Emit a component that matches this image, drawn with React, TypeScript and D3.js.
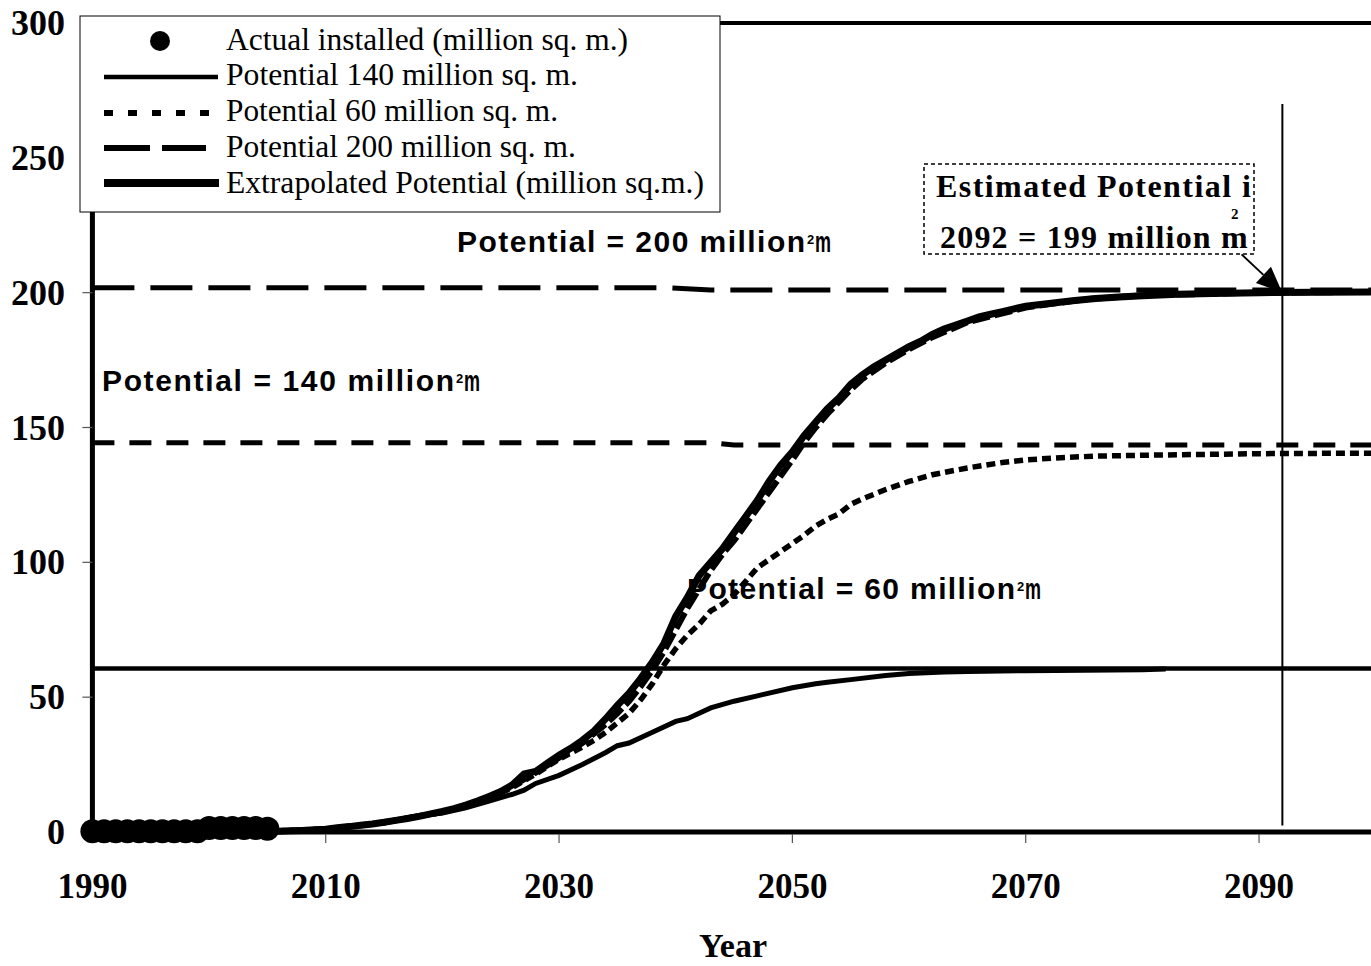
import React from 'react';
import * as d3 from 'd3';

// ---------- data ----------
const actualYears = [1990, 1991, 1992, 1993, 1994, 1995, 1996, 1997, 1998, 1999, 2000, 2001, 2002, 2003, 2004, 2005];
const actualValues = [0.3, 0.3, 0.3, 0.3, 0.3, 0.3, 0.3, 0.3, 0.3, 0.3, 1.5, 1.5, 1.5, 1.5, 1.5, 1.2];

// Extrapolated potential (thick solid) -> ~200
const extrapYears = [2005, 2006, 2007, 2008, 2009, 2010, 2011, 2012, 2013, 2014, 2015, 2016, 2017, 2018, 2019, 2020, 2021, 2022, 2023, 2024, 2025, 2026, 2027, 2028, 2029, 2030, 2031, 2032, 2033, 2034, 2035, 2036, 2037, 2038, 2039, 2040, 2041, 2042, 2043, 2044, 2045, 2046, 2047, 2048, 2049, 2050, 2051, 2052, 2053, 2054, 2055, 2056, 2057, 2058, 2059, 2060, 2061, 2062, 2063, 2064, 2065, 2066, 2067, 2068, 2069, 2070, 2072, 2074, 2076, 2078, 2080, 2083, 2086, 2090, 2095, 2100];
const extrapValues = [0.2, 0.3, 0.5, 0.6, 0.8, 1.0, 1.6, 2.0, 2.5, 3.0, 3.6, 4.3, 5.0, 5.8, 6.7, 7.6, 8.7, 10.0, 11.5, 13.2, 15.0, 17.5, 21.5, 22.5, 25.5, 28.5, 31, 34, 37.5, 42, 47, 51.5, 57, 63, 70, 80, 87, 95, 100, 105, 111, 117, 123, 130, 136, 141, 147, 152, 157, 161, 166, 169.5, 172.5, 175, 177.5, 180, 182, 184.5, 186.5, 188, 189.5, 191, 192, 193, 194, 195, 196, 197, 197.8, 198.4, 198.9, 199.4, 199.7, 200, 200.2, 200.3];

// Potential 200 (dashed curve)
const p200Years = [2005, 2010, 2015, 2020, 2022, 2024, 2026, 2028, 2030, 2032, 2034, 2035, 2036, 2037, 2038, 2039, 2040, 2041, 2042, 2043, 2044, 2045, 2046, 2047, 2048, 2049, 2050, 2051, 2052, 2053, 2054, 2055, 2056, 2058, 2060, 2062, 2065, 2070, 2075, 2080, 2090, 2100];
const p200Values = [0.2, 1.0, 3.5, 7.5, 9.8, 13, 17, 22, 27.5, 33, 40, 44, 48.5, 54, 60, 67, 75, 83, 90, 97, 103, 108, 114, 120, 126, 132, 138, 144.5, 150, 155, 159.5, 164, 168, 174, 179, 183.5, 189, 194.5, 197.5, 199, 200, 200.3];

// Potential 140 (dotted curve)
const p140Years = [2005, 2010, 2015, 2020, 2022, 2024, 2026, 2028, 2030, 2032, 2033, 2034, 2035, 2036, 2037, 2038, 2039, 2040, 2041, 2042, 2043, 2044, 2045, 2046, 2047, 2048, 2049, 2050, 2051, 2052, 2053, 2054, 2055, 2056, 2058, 2060, 2062, 2065, 2068, 2070, 2073, 2076, 2080, 2085, 2090, 2100];
const p140Values = [0.2, 1, 3.5, 7.3, 9.5, 12.5, 16.5, 21.5, 27, 31.5, 34, 37, 40.5, 44, 49, 55, 62, 68, 73, 77, 82, 84.5, 88, 93, 98, 101, 104, 107, 110, 113.5, 116, 118, 121.5, 123.5, 127, 130, 132.5, 135, 137, 138, 138.8, 139.4, 139.7, 140, 140.3, 140.5];

// Potential 60 (thin solid curve)
const p60Years = [2005, 2008, 2010, 2012, 2014, 2016, 2018, 2020, 2022, 2024, 2026, 2027, 2028, 2030, 2032, 2034, 2035, 2036, 2038, 2040, 2041, 2043, 2045, 2047, 2050, 2052, 2053, 2055, 2058, 2060, 2063, 2065, 2070, 2075, 2080, 2082];
const p60Values = [0.2, 0.5, 1, 2, 3, 4.5, 6, 7, 9, 11.5, 14, 15.5, 18, 21, 25, 29.5, 32, 33, 37, 41, 42, 46, 48.5, 50.5, 53.5, 55, 55.5, 56.5, 58, 58.8, 59.3, 59.5, 59.8, 60, 60.2, 60.4];

// Horizontal potential levels
const level200Years = [1990, 2039.5, 2043, 2100];
const level200Values = [201.8, 201.8, 201, 201];
const level140Years = [1990, 2043, 2045, 2100];
const level140Values = [144.3, 144.3, 143.5, 143.5];
const level60Years = [1990, 2100];
const level60Values = [60.6, 60.6];

const xTicks = [1990, 2010, 2030, 2050, 2070, 2090];
const yTicks = [0, 50, 100, 150, 200, 250, 300];

const markerYear = 2092;
const markerTop = 270;
const markerBottom = 2.4;
const arrowFrom = [2088.5, 214.2];
const arrowTo = [2092, 200];

const legendLabels = [
  'Actual installed (million sq. m.)',
  'Potential 140 million sq. m.',
  'Potential 60 million sq. m.',
  'Potential 200 million sq. m.',
  'Extrapolated Potential (million sq.m.)',
];

const SERIF = '"Liberation Serif", "Times New Roman", serif';
const SANS = '"Liberation Sans", Arial, sans-serif';

const zip = (xs: number[], ys: number[]) => xs.map((x, i) => [x, ys[i]] as [number, number]);

function PotLabel({ x0, base, text, len }: { x0: number; base: number; text: string; len: number }) {
  return (
    <g>
      <text x={x0} y={base} fontFamily={SANS} fontWeight="bold" fontSize={30} textLength={len} lengthAdjust="spacing">
        {text}
      </text>
      <text x={x0 + len + 2} y={base - 8} fontFamily={SANS} fontWeight="bold" fontSize={13}>2</text>
      <text x={x0 + len + 10} y={base} fontFamily={SANS} fontWeight="bold" fontSize={30} textLength={16} lengthAdjust="spacingAndGlyphs">m</text>
    </g>
  );
}

export default function App() {
  const W = 1371;
  const H = 966;
  const x = d3.scaleLinear().domain([1990, 2100]).range([92.4, 1375.7]);
  const y = d3.scaleLinear().domain([0, 300]).range([832, 23]);
  const line = d3
    .line<[number, number]>()
    .x((d) => x(d[0]))
    .y((d) => y(d[1]));

  const legendRows = [41, 77, 113, 148, 183];
  const legendBase = [50, 85, 121, 157, 193];
  const legendLens = [402, 352, 332, 350, 478];

  const ax0 = x(arrowFrom[0]);
  const ay0 = y(arrowFrom[1]);
  const ax1 = x(arrowTo[0]);
  const ay1 = y(arrowTo[1]);
  const ang = Math.atan2(ay1 - ay0, ax1 - ax0);
  const hl = 26;
  const hw = 11;
  const bx = ax1 - hl * Math.cos(ang);
  const by = ay1 - hl * Math.sin(ang);
  const head = `${ax1},${ay1} ${bx + hw * Math.sin(ang)},${by - hw * Math.cos(ang)} ${bx - hw * Math.sin(ang)},${by + hw * Math.cos(ang)}`;

  return (
    <svg
      width={W}
      height={H}
      style={{ position: 'absolute', left: 0, top: 0, background: '#fff' }}
    >
      <defs>
        <clipPath id="boxclip">
          <rect x={924} y={160} width={327} height={100} />
        </clipPath>
      </defs>
      <rect x={0} y={0} width={W} height={H} fill="#fff" />

      {/* top frame */}
      <line x1={x(1990)} x2={x(2100)} y1={y(300)} y2={y(300)} stroke="#000" strokeWidth={4} />

      {/* horizontal potential levels */}
      <path d={line(zip(level60Years, level60Values)) || ''} fill="none" stroke="#000" strokeWidth={4.5} />
      <path d={line(zip(level140Years, level140Values)) || ''} fill="none" stroke="#000" strokeWidth={5} strokeDasharray="22,15" />
      <path d={line(zip(level200Years, level200Values)) || ''} fill="none" stroke="#000" strokeWidth={5} strokeDasharray="42,16" />

      {/* vertical marker */}
      <line x1={x(markerYear)} x2={x(markerYear)} y1={y(markerTop)} y2={y(markerBottom)} stroke="#000" strokeWidth={2} />

      {/* axes */}
      <line x1={x(1990)} x2={x(1990)} y1={y(300)} y2={y(0) + 2} stroke="#000" strokeWidth={5} />
      <line x1={x(1990) - 2} x2={x(2100)} y1={y(0)} y2={y(0)} stroke="#000" strokeWidth={5} />
      {xTicks.map((t) => (
        <g key={'xt' + t}>
          <line x1={x(t)} x2={x(t)} y1={y(0) + 2} y2={y(0) + 11} stroke="#555" strokeWidth={1.2} />
          <text x={x(t)} y={898} textAnchor="middle" fontFamily={SERIF} fontWeight="bold" fontSize={36} textLength={70} lengthAdjust="spacingAndGlyphs">
            {t}
          </text>
        </g>
      ))}
      {yTicks.map((t) => (
        <g key={'yt' + t}>
          <line x1={x(1990) - 10} x2={x(1990)} y1={y(t)} y2={y(t)} stroke="#555" strokeWidth={1.2} />
          <text x={65} y={y(t) + 12} textAnchor="end" fontFamily={SERIF} fontWeight="bold" fontSize={36}>
            {t}
          </text>
        </g>
      ))}
      <text x={733} y={957} textAnchor="middle" fontFamily={SERIF} fontWeight="bold" fontSize={33} textLength={68} lengthAdjust="spacingAndGlyphs">
        Year
      </text>

      {/* curves */}
      <path d={line(zip(p60Years, p60Values)) || ''} fill="none" stroke="#000" strokeWidth={5} strokeLinejoin="miter" />
      <path d={line(zip(p140Years, p140Values)) || ''} fill="none" stroke="#000" strokeWidth={5.5} strokeDasharray="9,5" />
      <path d={line(zip(p200Years, p200Values)) || ''} fill="none" stroke="#000" strokeWidth={6} strokeDasharray="18,5" />
      <path d={line(zip(extrapYears, extrapValues)) || ''} fill="none" stroke="#000" strokeWidth={7} strokeLinejoin="miter" />

      {/* actual installed dots */}
      {actualYears.map((yr, i) => (
        <circle key={'a' + yr} cx={x(yr)} cy={y(actualValues[i])} r={12} fill="#000" />
      ))}

      {/* annotations */}
      <PotLabel x0={457} base={252} text="Potential = 200 million" len={348} />
      <PotLabel x0={102} base={391} text="Potential = 140 million" len={352} />
      <PotLabel x0={687} base={599} text="Potential = 60 million" len={328} />

      {/* estimated box */}
      <rect x={924} y={164} width={330} height={90} fill="#fff" stroke="#000" strokeWidth={1.5} strokeDasharray="4,3" />
      <g clipPath="url(#boxclip)">
        <text x={936} y={197} fontFamily={SERIF} fontWeight="bold" fontSize={32} textLength={334} lengthAdjust="spacing">
          Estimated Potential in
        </text>
      </g>
      <text x={940} y={248} fontFamily={SERIF} fontWeight="bold" fontSize={32} letterSpacing={1.2}>
        2092 = 199 million m
        <tspan dx={-18} dy={-29} fontSize={15} letterSpacing={0}>2</tspan>
      </text>

      {/* arrow */}
      <line x1={ax0} y1={ay0} x2={bx} y2={by} stroke="#000" strokeWidth={2} />
      <polygon points={head} fill="#000" />

      {/* legend */}
      <rect x={80} y={16} width={640} height={196} fill="#fff" stroke="#000" strokeWidth={1} />
      <circle cx={160} cy={legendRows[0]} r={10} fill="#000" />
      <line x1={104} x2={218} y1={legendRows[1]} y2={legendRows[1]} stroke="#000" strokeWidth={4.5} />
      <line x1={104} x2={214} y1={legendRows[2]} y2={legendRows[2]} stroke="#000" strokeWidth={6} strokeDasharray="9,15" />
      <line x1={104} x2={206} y1={legendRows[3]} y2={legendRows[3]} stroke="#000" strokeWidth={6} strokeDasharray="46,12" />
      <line x1={104} x2={219} y1={legendRows[4]} y2={legendRows[4]} stroke="#000" strokeWidth={8} />
      {legendLabels.map((lab, i) => (
        <text
          key={lab}
          x={226}
          y={legendBase[i]}
          fontFamily={SERIF}
          fontSize={31}
          textLength={legendLens[i]}
          lengthAdjust="spacingAndGlyphs"
        >
          {lab}
        </text>
      ))}
    </svg>
  );
}
